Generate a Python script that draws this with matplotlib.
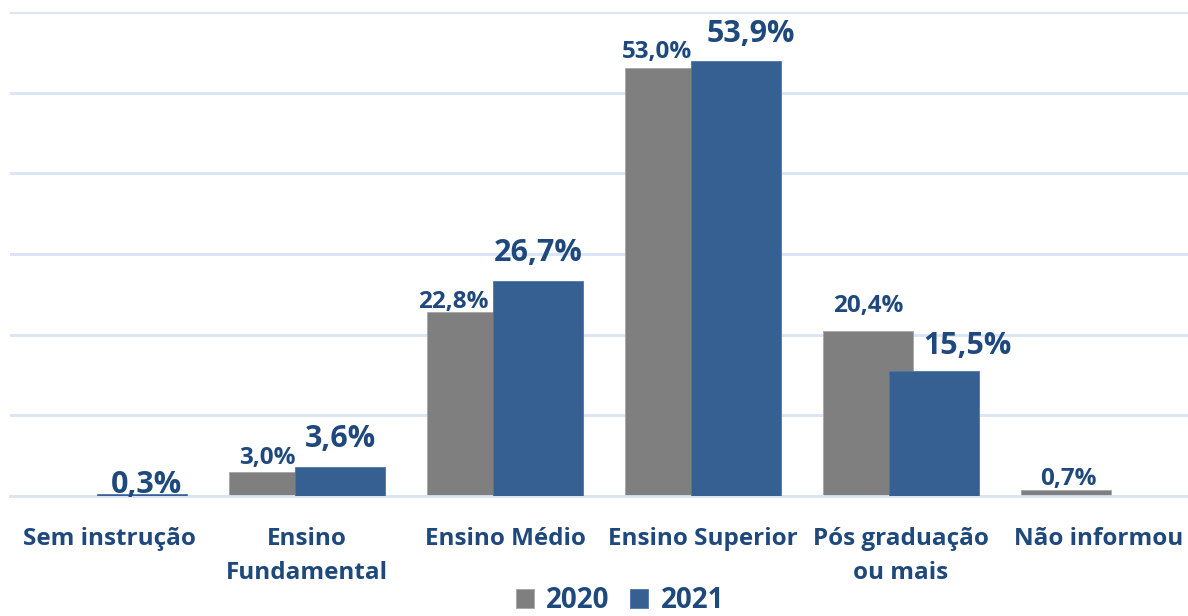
import matplotlib.pyplot as plt

plt.rcParams['font.family'] = ['Open Sans', 'DejaVu Sans']
plt.rcParams['font.weight'] = 'bold'

categories = ['Sem instrução', 'Ensino\nFundamental', 'Ensino Médio',
              'Ensino Superior', 'Pós graduação\nou mais', 'Não informou']
v2020 = [0.0, 3.0, 22.8, 53.0, 20.4, 0.7]
v2021 = [0.3, 3.6, 26.7, 53.9, 15.5, 0.0]

gray = '#7f7f7f'
blue = '#376092'
navy = '#1f497d'
grid = '#d9e4f5'

# label placement relative to bar centre / bar top, in pixels (dx, dy)
pos2020 = [None, (-7, 8), (-19, 4), (-13, 10), (0, 19), (2, 5)]
pos2021 = [(5, 1), (0, 20), (0, 20), (15, 19), (33, 17), None]

fig = plt.figure(figsize=(11.88, 6.16), dpi=100)
ax = fig.add_axes([10 / 1188, 120 / 616, 1.0, 484 / 616])

x = list(range(len(categories)))
w = 0.455
off = 1 / 6

ax.bar([i - off for i in x], v2020, w, color=gray, edgecolor='#a6a6a6',
       linewidth=0.6, label='2020', zorder=2)
ax.bar([i + off for i in x], [v if v > 0 else float('nan') for v in v2021], w,
       color=blue, edgecolor='#4f76a8', linewidth=0.6, label='2021', zorder=3)


def fmt(v):
    return f'{v:.1f}%'.replace('.', ',')


for vals, pos, dx0, size in [(v2020, pos2020, -off, 17.5), (v2021, pos2021, off, 22)]:
    for i, v in enumerate(vals):
        if v <= 0:
            continue
        ax.annotate(fmt(v), (i + dx0, v), xytext=pos[i],
                    textcoords='offset pixels', ha='center', va='baseline',
                    fontsize=size, fontweight='bold', color=navy, zorder=5)

ax.set_xlim(-0.5, len(categories) - 0.5)
ax.set_ylim(0, 60)
ax.set_yticks(range(0, 61, 10))
ax.yaxis.grid(True, color=grid, linewidth=2, zorder=0)
ax.set_axisbelow(True)
ax.tick_params(axis='y', left=False, labelleft=False)
ax.tick_params(axis='x', length=0, pad=22)
ax.set_xticks(x)
ax.set_xticklabels(categories, fontsize=17.5, fontweight='bold', color=navy,
                   linespacing=1.6, va='top')
for s in ['top', 'right', 'left']:
    ax.spines[s].set_visible(False)
ax.spines['bottom'].set_color(grid)
ax.spines['bottom'].set_linewidth(2)

fig.legend(loc='center', bbox_to_anchor=(620 / 1188, 1 - 601 / 616), ncol=2,
           frameon=False, handlelength=0.65, handleheight=0.65,
           handletextpad=0.45, columnspacing=0.75, borderpad=0.2,
           prop={'weight': 'bold', 'size': 20})
for t in fig.legends[0].get_texts():
    t.set_color(navy)

fig.savefig('out.png', dpi=100)
